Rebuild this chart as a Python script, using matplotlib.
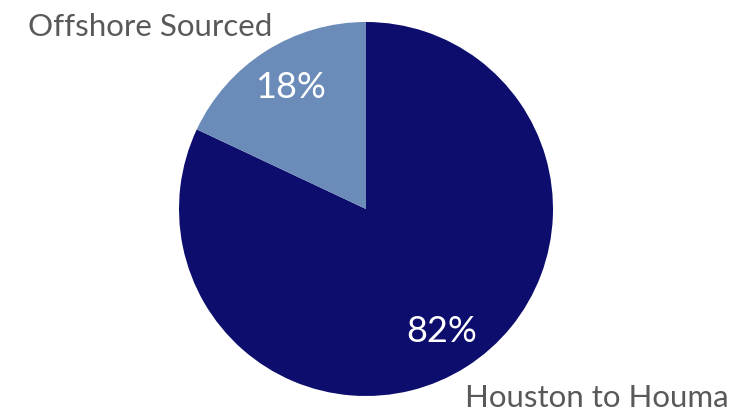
import matplotlib.pyplot as plt

# slices, clockwise from 12 o'clock
labels = ["Houston to Houma", "Offshore Sourced"]
shares = [82, 18]
colors = ["#0d0d6e", "#6b8cb8"]

plt.rcParams['font.family'] = ['Lato', 'DejaVu Sans']

fig = plt.figure(figsize=(7.54, 4.11), dpi=100)
ax = fig.add_axes([0, 0, 1, 1])

wedges, texts = ax.pie(shares, colors=colors, startangle=90, counterclock=False,
                       center=(366, 202), radius=187, frame=True,
                       wedgeprops=dict(linewidth=0))
ax.set_xlim(0, 754)
ax.set_ylim(0, 411)
ax.set_aspect('equal')
ax.axis('off')

# percentage labels
ax.text(442, 80, f"{shares[0]}%", color='white', fontsize=26, ha='center', va='center')
ax.text(290, 323, f"{shares[1]}%", color='white', fontsize=26, ha='center', va='center')

# category labels
ax.text(28, 375, labels[1], color='#595959', fontsize=22.5, ha='left', va='baseline')
ax.text(465, 4, labels[0], color='#595959', fontsize=22.5, ha='left', va='baseline')

plt.savefig('out.png', dpi=100)
